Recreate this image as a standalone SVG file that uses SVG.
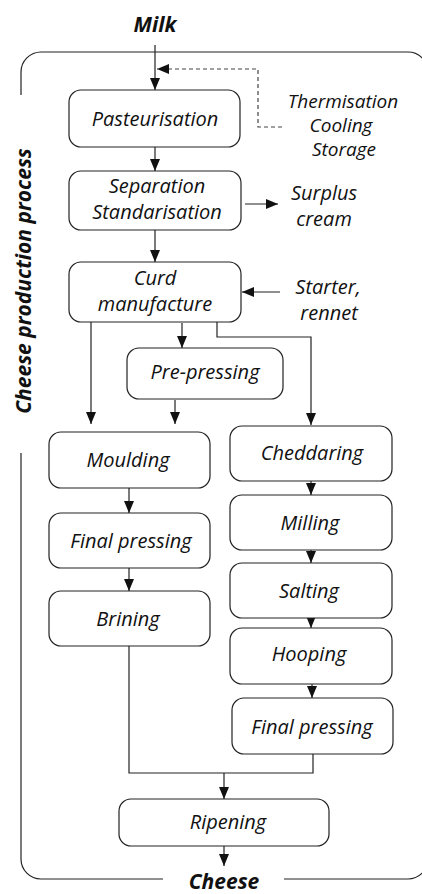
<svg xmlns="http://www.w3.org/2000/svg" width="422" height="894" viewBox="0 0 422 894">
<style>
.box{fill:#fff;stroke:#222;stroke-width:1.2}
.ln{fill:none;stroke:#222;stroke-width:1.2}
.dash{fill:none;stroke:#444;stroke-width:1.2;stroke-dasharray:4 3}
.t{font-family:"Open Sans","DejaVu Sans",sans-serif;font-style:italic;font-size:20px;fill:#111;text-anchor:middle}
.s{font-size:19px}
.b{font-family:"Open Sans","DejaVu Sans",sans-serif;font-style:italic;font-weight:bold;font-size:21px;fill:#111;text-anchor:middle}
</style>
<defs>
<marker id="ah" viewBox="0 0 12 10" refX="12" refY="5" markerWidth="12" markerHeight="10" markerUnits="userSpaceOnUse" orient="auto">
<path d="M0,0 L12,5 L0,10 z" fill="#111"/>
</marker>
</defs>

<g id="frame">
<path class="ln" d="M21,95 L21,72 A20,20 0 0 1 41,52 L408,52 A20,20 0 0 1 428,72 L428,859 A20,20 0 0 1 408,879 L284,879"/>
<path class="ln" d="M163,879 L41,879 A20,20 0 0 1 21,859 L21,453"/>
<text class="b" transform="translate(31,281) rotate(-90)" x="0" y="0">Cheese production process</text>
</g>

<g id="connectors">
<line class="ln" x1="155" y1="45" x2="155" y2="90" marker-end="url(#ah)"/>
<polyline class="dash" points="282,127 258,127 258,69 157,69" marker-end="url(#ah)"/>
<line class="ln" x1="155" y1="147" x2="155" y2="171" marker-end="url(#ah)"/>
<line class="ln" x1="245" y1="204" x2="278" y2="204" marker-end="url(#ah)"/>
<line class="ln" x1="155" y1="230" x2="155" y2="262" marker-end="url(#ah)"/>
<line class="ln" x1="280" y1="292" x2="242" y2="292" marker-end="url(#ah)"/>
<line class="ln" x1="91" y1="322" x2="91" y2="424" marker-end="url(#ah)"/>
<line class="ln" x1="182" y1="323" x2="182" y2="348" marker-end="url(#ah)"/>
<polyline class="ln" points="217,322 217,337 311,337 311,425" marker-end="url(#ah)"/>
<line class="ln" x1="175" y1="400" x2="175" y2="424" marker-end="url(#ah)"/>
<line class="ln" x1="129" y1="488" x2="129" y2="513" marker-end="url(#ah)"/>
<line class="ln" x1="129" y1="568" x2="129" y2="591" marker-end="url(#ah)"/>
<line class="ln" x1="311" y1="481" x2="311" y2="495" marker-end="url(#ah)"/>
<line class="ln" x1="311" y1="550" x2="311" y2="563" marker-end="url(#ah)"/>
<line class="ln" x1="311" y1="618" x2="311" y2="628" marker-end="url(#ah)"/>
<line class="ln" x1="312" y1="684" x2="312" y2="698" marker-end="url(#ah)"/>
<polyline class="ln" points="129,646 129,773 313,773 313,754"/>
<line class="ln" x1="224" y1="773" x2="224" y2="799" marker-end="url(#ah)"/>
<line class="ln" x1="224" y1="846" x2="224" y2="866" marker-end="url(#ah)"/>
</g>

<g id="milk"><text class="b" x="155" y="32">Milk</text></g>
<g id="thermisation"><text class="t s" x="343" y="108">Thermisation</text><text class="t s" x="341" y="132">Cooling</text><text class="t s" x="344" y="156">Storage</text></g>
<g id="pasteurisation"><rect class="box" x="69" y="90" width="171" height="57" rx="12"/><text class="t" x="155" y="126">Pasteurisation</text></g>
<g id="separation"><rect class="box" x="69" y="171" width="172" height="59" rx="12"/><text class="t" x="157" y="193">Separation</text><text class="t" x="157" y="219">Standarisation</text></g>
<g id="surplus"><text class="t" x="324" y="200">Surplus</text><text class="t" x="324" y="226">cream</text></g>
<g id="curd"><rect class="box" x="69" y="262" width="172" height="60" rx="12"/><text class="t" x="155" y="285">Curd</text><text class="t" x="155" y="311">manufacture</text></g>
<g id="starter"><text class="t" x="328" y="294">Starter,</text><text class="t" x="329" y="320">rennet</text></g>
<g id="prepressing"><rect class="box" x="127" y="348" width="156" height="51" rx="12"/><text class="t" x="205" y="379">Pre-pressing</text></g>
<g id="moulding"><rect class="box" x="49" y="432" width="161" height="56" rx="12"/><text class="t" x="128" y="467">Moulding</text></g>
<g id="finalpressing1"><rect class="box" x="49" y="513" width="161" height="55" rx="12"/><text class="t" x="131" y="548">Final pressing</text></g>
<g id="brining"><rect class="box" x="49" y="591" width="161" height="55" rx="12"/><text class="t" x="128" y="626">Brining</text></g>
<g id="cheddaring"><rect class="box" x="230" y="426" width="162" height="55" rx="12"/><text class="t" x="312" y="460">Cheddaring</text></g>
<g id="milling"><rect class="box" x="230" y="495" width="162" height="55" rx="12"/><text class="t" x="310" y="530">Milling</text></g>
<g id="salting"><rect class="box" x="230" y="563" width="162" height="55" rx="12"/><text class="t" x="309" y="598">Salting</text></g>
<g id="hooping"><rect class="box" x="230" y="628" width="162" height="56" rx="12"/><text class="t" x="309" y="661">Hooping</text></g>
<g id="finalpressing2"><rect class="box" x="232" y="698" width="161" height="56" rx="12"/><text class="t" x="312" y="734">Final pressing</text></g>
<g id="ripening"><rect class="box" x="119" y="799" width="210" height="47" rx="12"/><text class="t" x="228" y="829">Ripening</text></g>
<g id="cheese"><text class="b" x="224" y="889">Cheese</text></g>
</svg>
